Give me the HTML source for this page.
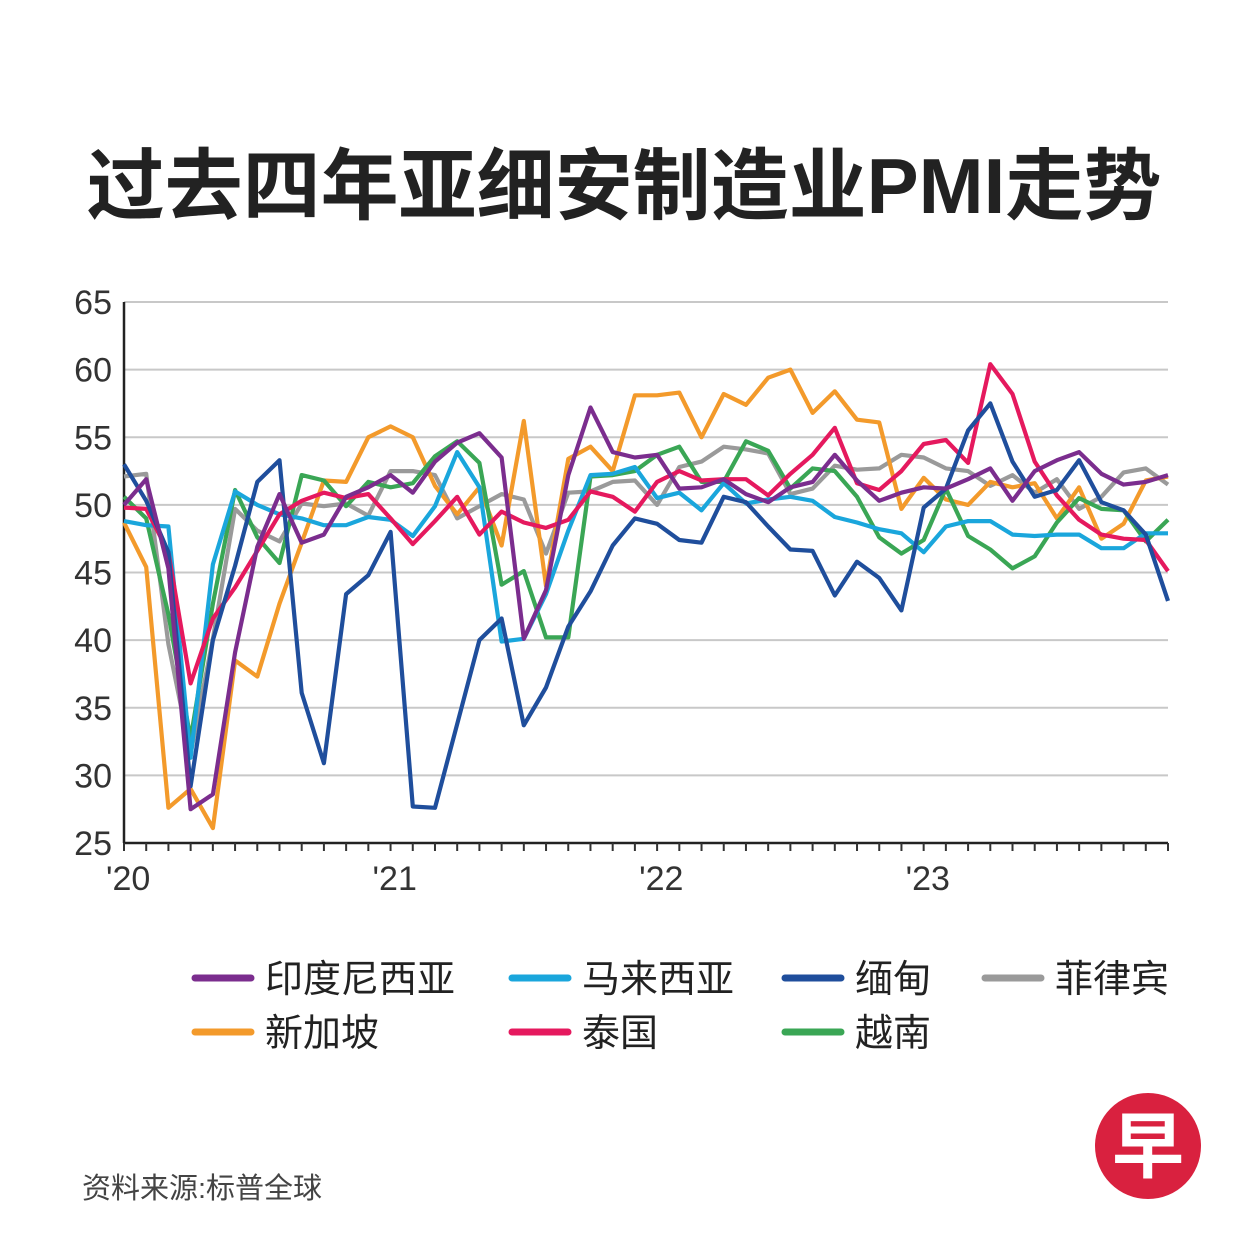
<!DOCTYPE html>
<html><head><meta charset="utf-8">
<style>
html,body{margin:0;padding:0;background:#fff;}
body{width:1251px;height:1251px;overflow:hidden;font-family:"Liberation Sans","Noto Sans CJK SC",sans-serif;}
</style></head>
<body>
<svg id="chart" width="1251" height="1251" xmlns="http://www.w3.org/2000/svg" style="position:absolute;left:0;top:0">
<text x="624" y="213" text-anchor="middle" font-size="78" font-weight="bold" fill="#222" font-family="Liberation Sans,Noto Sans CJK SC,sans-serif">过去四年亚细安制造业PMI走势</text>
<g id="grid"></g><g id="axes"></g><g id="lines"></g><g id="legend"></g>
<text x="82" y="1198" font-size="29" fill="#444" font-family="Liberation Sans,Noto Sans CJK SC,sans-serif">资料来源:标普全球</text>
<g>
<circle cx="1148" cy="1146" r="53" fill="#d9213f"/>
<text x="1148" y="1172" text-anchor="middle" font-size="72" font-weight="bold" fill="#fff" font-family="Noto Sans CJK SC,sans-serif">早</text>
</g>
</svg>
<script>
const yTicks=[25,30,35,40,45,50,55,60,65];
const yearLabels=["'20","'21","'22","'23"];
const seriesNames=["印度尼西亚","马来西亚","缅甸","菲律宾","新加坡","泰国","越南"];
const indonesia=[50.0,51.9,45.3,27.5,28.6,39.1,46.9,50.8,47.2,47.8,50.6,51.3,52.2,50.9,53.2,54.6,55.3,53.5,40.1,43.7,52.2,57.2,53.9,53.5,53.7,51.2,51.3,51.9,50.8,50.2,51.3,51.7,53.7,51.8,50.3,50.9,51.3,51.2,51.9,52.7,50.3,52.5,53.3,53.9,52.3,51.5,51.7,52.2];
const malaysia=[48.8,48.5,48.4,31.3,45.6,51.0,50.0,49.3,49.0,48.5,48.5,49.1,48.9,47.7,49.9,53.9,51.3,39.9,40.1,43.4,48.1,52.2,52.3,52.8,50.5,50.9,49.6,51.6,50.1,50.4,50.6,50.3,49.1,48.7,48.2,47.9,46.5,48.4,48.8,48.8,47.8,47.7,47.8,47.8,46.8,46.8,47.9,47.9];
const myanmar=[53.0,50.3,46.5,29.2,40.0,45.5,51.7,53.3,36.1,30.9,43.4,44.8,48.0,27.7,27.6,33.8,40.0,41.6,33.7,36.5,41.0,43.6,47.0,49.0,48.6,47.4,47.2,50.6,50.2,48.4,46.7,46.6,43.3,45.8,44.6,42.2,49.8,51.2,55.5,57.5,53.2,50.6,51.1,53.3,50.2,49.6,47.8,42.9];
const philippines=[52.1,52.3,39.7,31.6,40.1,49.7,48.1,47.3,50.1,49.9,50.1,49.2,52.5,52.5,52.2,49.0,49.9,50.8,50.4,46.4,50.9,51.0,51.7,51.8,50.0,52.8,53.2,54.3,54.1,53.8,50.8,51.2,52.9,52.6,52.7,53.7,53.5,52.7,52.5,51.4,52.2,50.9,51.9,49.7,50.6,52.4,52.7,51.5];
const singapore=[48.7,45.4,27.6,29.0,26.1,38.5,37.3,42.7,47.2,51.8,51.7,55.0,55.8,55.0,51.4,49.3,51.3,47.0,56.2,44.0,53.4,54.3,52.5,58.1,58.1,58.3,55.0,58.2,57.4,59.4,60.0,56.8,58.4,56.3,56.1,49.7,52.0,50.4,50.0,51.7,51.3,51.6,49.0,51.3,47.5,48.6,51.8,52.1];
const thailand=[49.8,49.7,46.5,36.8,41.6,43.9,46.6,49.3,50.3,50.9,50.5,50.8,49.0,47.1,48.8,50.6,47.8,49.5,48.7,48.3,48.9,51.0,50.6,49.5,51.7,52.5,51.8,51.9,51.9,50.7,52.3,53.7,55.7,51.6,51.1,52.5,54.5,54.8,53.1,60.4,58.2,53.2,50.7,48.9,47.8,47.5,47.4,45.1];
const vietnam=[50.6,49.0,41.9,32.7,42.7,51.1,47.6,45.7,52.2,51.8,49.9,51.7,51.3,51.6,53.6,54.7,53.1,44.1,45.1,40.2,40.2,52.1,52.2,52.5,53.7,54.3,51.7,51.7,54.7,54.0,51.2,52.7,52.5,50.6,47.6,46.4,47.4,51.2,47.7,46.7,45.3,46.2,48.7,50.5,49.7,49.6,47.3,48.9];

const NS="http://www.w3.org/2000/svg";
const X0=124,X1=1168,Y25=843,Y65=302;
const xs=i=>X0+(X1-X0)*i/47;
const ys=v=>Y25-(v-25)*(Y25-Y65)/40;
function mk(tag,attrs,parent){const e=document.createElementNS(NS,tag);for(const k in attrs)e.setAttribute(k,attrs[k]);parent.appendChild(e);return e;}
const grid=document.getElementById('grid'),axes=document.getElementById('axes'),lines=document.getElementById('lines'),legend=document.getElementById('legend');
yTicks.forEach(t=>{
  if(t>25){const l=mk('line',{x1:X0,x2:X1,y1:ys(t),y2:ys(t),stroke:'#c8c8c8','stroke-width':2},grid);
  
  }
  const tx=mk('text',{x:112,y:ys(t)+12,'text-anchor':'end','font-size':34,fill:'#333'},axes);
  tx.textContent=t;
  
  
});
const ax=mk('line',{x1:X0,x2:X1,y1:Y25,y2:Y25,stroke:'#222','stroke-width':2.5},axes);


const ay=mk('line',{x1:X0,x2:X0,y1:Y65,y2:Y25,stroke:'#222','stroke-width':2.5},axes);


for(let i=0;i<48;i++){const tk=mk('line',{x1:xs(i),x2:xs(i),y1:Y25,y2:Y25+8,stroke:'#333','stroke-width':2},axes);

}
yearLabels.forEach((lab,k)=>{const t=mk('text',{x:xs(k*12)-18,y:890,'font-size':34,fill:'#333'},axes);t.textContent=lab;

});
const series=[
 {name:'philippines',d:philippines,c:'#9a9a9a'},
 {name:'singapore',d:singapore,c:'#f39a2b'},
 {name:'vietnam',d:vietnam,c:'#3aa655'},
 {name:'malaysia',d:malaysia,c:'#1aa6dc'},
 {name:'thailand',d:thailand,c:'#e5195e'},
 {name:'myanmar',d:myanmar,c:'#1f4e9c'},
 {name:'indonesia',d:indonesia,c:'#7b2d8e'}];
series.forEach(s=>{
  const p=mk('polyline',{points:s.d.map((v,i)=>xs(i).toFixed(1)+','+ys(v).toFixed(1)).join(' '),fill:'none',stroke:s.c,'stroke-width':4.2,'stroke-linejoin':'round'},lines);
  
  
});
const legColors=['#7b2d8e','#1aa6dc','#1f4e9c','#9a9a9a','#f39a2b','#e5195e','#3aa655'];
const legX=[195,512,785,985],legY=[978,1032];
seriesNames.forEach((n,i)=>{
  const x=legX[i%4],y=legY[Math.floor(i/4)];
  const g=mk('g',{},legend);
  
  
  mk('line',{x1:x,x2:x+56,y1:y,y2:y,stroke:legColors[i],'stroke-width':7,'stroke-linecap':'round'},g);
  const t=mk('text',{x:x+70,y:y+14,'font-size':38,fill:'#222'},g);t.textContent=n;
});
</script>
</body></html>
